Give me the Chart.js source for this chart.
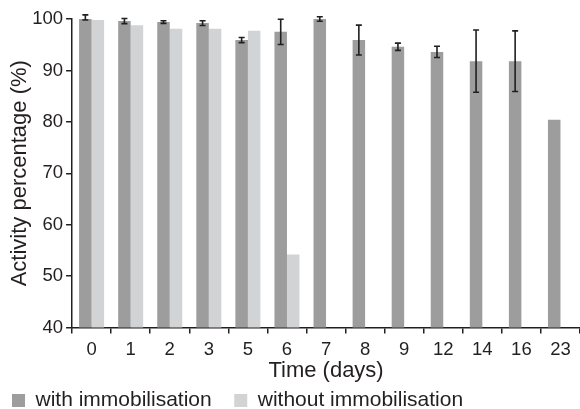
<!DOCTYPE html>
<html>
<head>
<meta charset="utf-8">
<script src="https://cdn.jsdelivr.net/npm/chart.js@4.4.1/dist/chart.umd.min.js"></script>
<style>
  html, body { margin: 0; padding: 0; background: #fff; }
  #wrap { width: 580px; height: 409px; }
</style>
</head>
<body>
<div id="wrap"><canvas id="canvas"></canvas></div>
<script>
var days = ['0', '1', '2', '3', '5', '6', '7', '8', '9', '12', '14', '16', '23'];
var withImmob = [100.3, 99.6, 99.4, 99.2, 95.9, 97.5, 100, 95.9, 94.6, 93.6, 91.8, 91.8, 80.4];
var withImmobErr = [0.5, 0.5, 0.25, 0.45, 0.5, 2.45, 0.45, 2.9, 0.7, 1.1, 6.05, 5.9, null];
var withoutImmob = [99.8, 98.8, 98.1, 98.1, 97.7, 54.2, null, null, null, null, null, null, null];
var yTicks = [40, 50, 60, 70, 80, 90, 100];

var ink = '#231f20';

// error bars on top of the dark bars
var errorBars = {
    id: 'errorBars',
    afterDatasetsDraw: function(chart) {
        var ctx = chart.ctx;
        var y = chart.scales.y;
        var meta = chart.getDatasetMeta(0);
        ctx.save();
        ctx.strokeStyle = ink;
        ctx.lineWidth = 1.6;
        meta.data.forEach(function(bar, i) {
            var e = withImmobErr[i];
            if (e == null) return;
            var top = y.getPixelForValue(withImmob[i] + e);
            var bot = y.getPixelForValue(withImmob[i] - e);
            ctx.beginPath();
            ctx.moveTo(bar.x, top);
            ctx.lineTo(bar.x, bot);
            ctx.moveTo(bar.x - 3, top);
            ctx.lineTo(bar.x + 3, top);
            ctx.moveTo(bar.x - 3, bot);
            ctx.lineTo(bar.x + 3, bot);
            ctx.stroke();
        });
        ctx.restore();
    }
};

Chart.defaults.font.family = '"Liberation Sans", Arial, sans-serif';
Chart.defaults.font.size = 18;
Chart.defaults.color = ink;

var config = {
    type: 'bar',
    data: {
        labels: days,
        datasets: [{
            label: 'with immobilisation',
            backgroundColor: '#9d9d9e',
            data: withImmob
        }, {
            label: 'without immobilisation',
            backgroundColor: '#d2d3d5',
            data: withoutImmob
        }]
    },
    options: {
        responsive: true,
        maintainAspectRatio: false,
        animation: false,
        categoryPercentage: 0.64,
        barPercentage: 1,
        layout: {
            padding: { top: 19, right: 0, left: -10.5, bottom: -12 }
        },
        plugins: {
            legend: {
                position: 'bottom',
                align: 'start',
                labels: {
                    boxWidth: 13,
                    boxHeight: 13,
                    padding: 22.5,
                    color: ink,
                    font: { size: 21 }
                }
            },
            tooltip: { enabled: false }
        },
        scales: {
            x: {
                grid: {
                    offset: true,
                    drawOnChartArea: false,
                    drawTicks: true,
                    tickLength: 6,
                    color: ink,
                    lineWidth: 1.5
                },
                border: { color: ink, width: 1.5 },
                ticks: { padding: 5, maxRotation: 0, autoSkip: false, font: { size: 18.5 } },
                title: {
                    display: true,
                    text: 'Time (days)',
                    font: { size: 22 },
                    padding: { top: -8.4, bottom: -16.2 }
                }
            },
            y: {
                min: 40,
                max: 100,
                afterBuildTicks: function(scale) {
                    scale.ticks = yTicks.map(function(v) { return { value: v }; });
                },
                grid: {
                    drawOnChartArea: false,
                    drawTicks: true,
                    tickLength: 6,
                    color: ink,
                    lineWidth: 1.5
                },
                border: { color: ink, width: 1.5 },
                ticks: { padding: 3, font: { size: 18.5 } },
                title: {
                    display: true,
                    text: 'Activity percentage (%)',
                    font: { size: 22 },
                    padding: { top: 17.3, bottom: -4 }
                }
            }
        }
    },
    plugins: [errorBars]
};

window.onload = function() {
    window.myBar = new Chart(document.getElementById('canvas'), config);
};
</script>
</body>
</html>
